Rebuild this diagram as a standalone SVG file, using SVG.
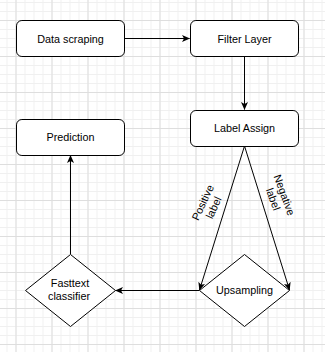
<svg xmlns="http://www.w3.org/2000/svg" width="325" height="352" viewBox="0 0 325 352">
<defs>
<pattern id="minor" x="15.5" y="20" width="9" height="9" patternUnits="userSpaceOnUse">
<path d="M0.5,0 V9 M0,0.5 H9" fill="none" stroke="#f0f0f0" stroke-width="1"/>
</pattern>
<pattern id="major" x="15.5" y="20" width="36" height="36" patternUnits="userSpaceOnUse">
<path d="M0.5,0 V36 M0,0.5 H36" fill="none" stroke="#dedede" stroke-width="1"/>
</pattern>
<marker id="arr" viewBox="0 0 8 7" refX="7.5" refY="3.5" markerWidth="8" markerHeight="7" markerUnits="userSpaceOnUse" orient="auto">
<path d="M0,0 L8,3.5 L0,7 L2,3.5 z" fill="#000"/>
</marker>
<style>
.box{fill:#fff;stroke:#000;stroke-width:1}
.t{font-family:"Liberation Sans",Arial,sans-serif;font-size:10.8px;fill:#000;text-anchor:middle}
.c{fill:none;stroke:#000;stroke-width:1;marker-end:url(#arr)}
</style>
</defs>
<rect width="325" height="352" fill="#fff"/>
<rect width="325" height="352" fill="url(#minor)"/>
<rect width="325" height="352" fill="url(#major)"/>
<g id="connectors">
<path class="c" d="M124,38.5 H189.5"/>
<path class="c" d="M244.5,56 V109.5"/>
<path class="c" d="M244.5,146 L199.5,290"/>
<path class="c" d="M244.5,146 L289.5,290"/>
<path class="c" d="M199,290.5 H115.5"/>
<path class="c" d="M70.5,254 V155.5"/>
<text class="t" transform="translate(208,205) rotate(-65)"><tspan x="0" y="-2">Positive</tspan><tspan x="0" y="10">label</tspan></text>
<text class="t" transform="translate(279,197) rotate(70)"><tspan x="0" y="-2">Negative</tspan><tspan x="0" y="10">label</tspan></text>
</g>
<g id="data-scraping">
<rect class="box" x="16.5" y="20.5" width="108" height="36" rx="5.4"/>
<text class="t" x="70.5" y="42.5">Data scraping</text>
</g>
<g id="filter-layer">
<rect class="box" x="190.5" y="20.5" width="108" height="36" rx="5.4"/>
<text class="t" x="244.5" y="42.5">Filter Layer</text>
</g>
<g id="label-assign">
<rect class="box" x="190.5" y="110.5" width="108" height="36" rx="5.4"/>
<text class="t" x="244.5" y="132">Label Assign</text>
</g>
<g id="prediction">
<rect class="box" x="16.5" y="119.5" width="108" height="36" rx="5.4"/>
<text class="t" x="70.5" y="141">Prediction</text>
</g>
<g id="fasttext">
<path class="box" d="M70.5,254.5 L115.5,290.5 L70.5,326.5 L25.5,290.5 Z"/>
<text class="t"><tspan x="70" y="287">Fasttext</tspan><tspan x="69" y="299.5">classifier</tspan></text>
</g>
<g id="upsampling">
<path class="box" d="M244.5,254.5 L289.5,290.5 L244.5,326.5 L199.5,290.5 Z"/>
<text class="t" x="244.5" y="293.5">Upsampling</text>
</g>
</svg>
